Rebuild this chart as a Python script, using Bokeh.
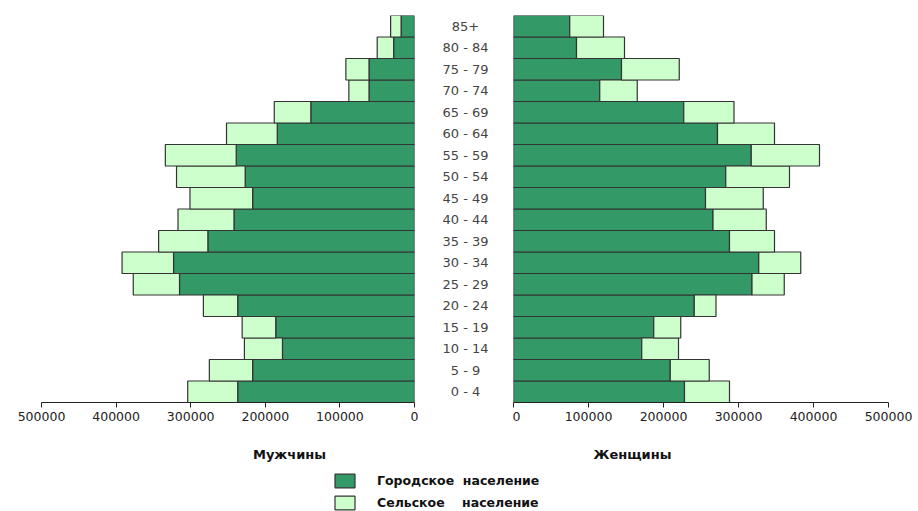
from bokeh.plotting import figure
from bokeh.layouts import column, row
from bokeh.models import (Range1d, FactorRange, ColumnDataSource, FixedTicker,
                          Label, Legend, LegendItem, BasicTickFormatter)
from bokeh.core.properties import value
from bokeh.embed import file_html
from bokeh.resources import INLINE

# ---- data (bottom to top) ----
ages = ["0 - 4", "5 - 9", "10 - 14", "15 - 19", "20 - 24", "25 - 29", "30 - 34",
        "35 - 39", "40 - 44", "45 - 49", "50 - 54", "55 - 59", "60 - 64",
        "65 - 69", "70 - 74", "75 - 79", "80 - 84", "85+"]
men_urban = [237000, 217000, 177000, 186000, 237000, 315000, 323000, 277000, 242000,
             217000, 227000, 239000, 184000, 139000, 61000, 61000, 28000, 18000]
men_rural = [67000, 58000, 51000, 45000, 46000, 62000, 69000, 66000, 75000,
             84000, 92000, 95000, 68000, 49000, 27000, 31000, 22000, 14000]
women_urban = [228000, 209000, 171000, 187000, 241000, 318000, 327000, 288000, 266000,
               256000, 283000, 317000, 272000, 227000, 115000, 144000, 84000, 75000]
women_rural = [60000, 52000, 49000, 36000, 29000, 43000, 56000, 60000, 71000,
               77000, 85000, 91000, 76000, 67000, 50000, 77000, 64000, 45000]
ticks = [0, 100000, 200000, 300000, 400000, 500000]
series_labels = ["Городское  население", "Сельское    население"]
side_labels = ["Мужчины", "Женщины"]

URBAN = "#339966"
RURAL = "#CCFFCC"
EDGE = "#333333"
FONT = "DejaVu Sans"

men_src = ColumnDataSource(dict(age=ages, urban=men_urban,
                                total=[u + r for u, r in zip(men_urban, men_rural)]))
women_src = ColumnDataSource(dict(age=ages, urban=women_urban,
                                  total=[u + r for u, r in zip(women_urban, women_rural)]))

TOP_H = 428
yr = FactorRange(factors=ages)


def style_x(p):
    ax = p.xaxis[0]
    ax.ticker = FixedTicker(ticks=ticks)
    ax.formatter = BasicTickFormatter(use_scientific=False)
    ax.major_label_text_font = FONT
    ax.major_label_text_font_size = "12.5px"
    ax.major_label_text_color = "#222222"
    ax.major_tick_in = 0
    ax.major_tick_out = 5
    ax.minor_tick_line_color = None
    ax.axis_line_color = "#222222"
    ax.major_tick_line_color = "#222222"
    ax.major_label_standoff = 4
    p.grid.visible = False
    p.outline_line_color = None


def bars(p, src):
    p.hbar(y="age", left=0, right="urban", height=1.0, source=src,
           fill_color=URBAN, line_color=EDGE, line_width=1.2)
    p.hbar(y="age", left="urban", right="total", height=1.0, source=src,
           fill_color=RURAL, line_color=EDGE, line_width=1.2)


p_left = figure(width=418, height=TOP_H, x_range=Range1d(500000, 0), y_range=yr,
                output_backend="svg", toolbar_location=None, y_axis_location=None,
                min_border_left=41, min_border_right=4, min_border_top=15,
                min_border_bottom=26)
bars(p_left, men_src)
style_x(p_left)

p_mid = figure(width=94, height=TOP_H, x_range=Range1d(0, 1), y_range=yr,
               output_backend="svg", toolbar_location=None,
               x_axis_location=None, y_axis_location=None,
               min_border_left=0, min_border_right=0, min_border_top=15,
               min_border_bottom=26)
p_mid.text(x=0.5, y="age", text="age", source=ColumnDataSource(dict(age=ages)),
           text_align="center", text_baseline="middle",
           text_font=value(FONT), text_font_size="13px", text_color="#444444")
p_mid.grid.visible = False
p_mid.outline_line_color = None

p_right = figure(width=406, height=TOP_H, x_range=Range1d(0, 500000), y_range=yr,
                 output_backend="svg", toolbar_location=None, y_axis_location=None,
                 min_border_left=1, min_border_right=30, min_border_top=15,
                 min_border_bottom=26)
bars(p_right, women_src)
style_x(p_right)

BOT_H = 83
p_bot = figure(width=918, height=BOT_H, x_range=Range1d(0, 1), y_range=Range1d(0, 1),
               output_backend="svg", toolbar_location=None,
               x_axis_location=None, y_axis_location=None,
               min_border_left=0, min_border_right=0, min_border_top=0,
               min_border_bottom=0)
p_bot.grid.visible = False
p_bot.outline_line_color = None

for txt, sx in zip(side_labels, [289, 632]):
    p_bot.add_layout(Label(x=sx, y=57, x_units="screen", y_units="screen", text=txt,
                           text_align="center", text_baseline="middle",
                           text_font=FONT, text_font_style="bold",
                           text_font_size="13px", text_color="#111111"))

# legend-only renderers (placed far outside the visible range)
r1 = p_bot.hbar(y=[-50], left=[-50], right=[-49], height=0.1, fill_color=URBAN,
                line_color=EDGE, line_width=1.2)
r2 = p_bot.hbar(y=[-50], left=[-50], right=[-49], height=0.1, fill_color=RURAL,
                line_color=EDGE, line_width=1.2)
legend = Legend(items=[LegendItem(label=series_labels[0], renderers=[r1]),
                       LegendItem(label=series_labels[1], renderers=[r2])],
                location=(332, 0), orientation="vertical",
                glyph_width=25, glyph_height=17, label_height=17,
                label_standoff=20, spacing=5, padding=0, margin=0,
                border_line_color=None, background_fill_alpha=0,
                label_text_font=FONT, label_text_font_style="bold",
                label_text_font_size="12.5px", label_text_color="#111111")
p_bot.add_layout(legend)

layout = column(row(p_left, p_mid, p_right), p_bot)

open("out.html", "w").write(file_html(layout, INLINE))
